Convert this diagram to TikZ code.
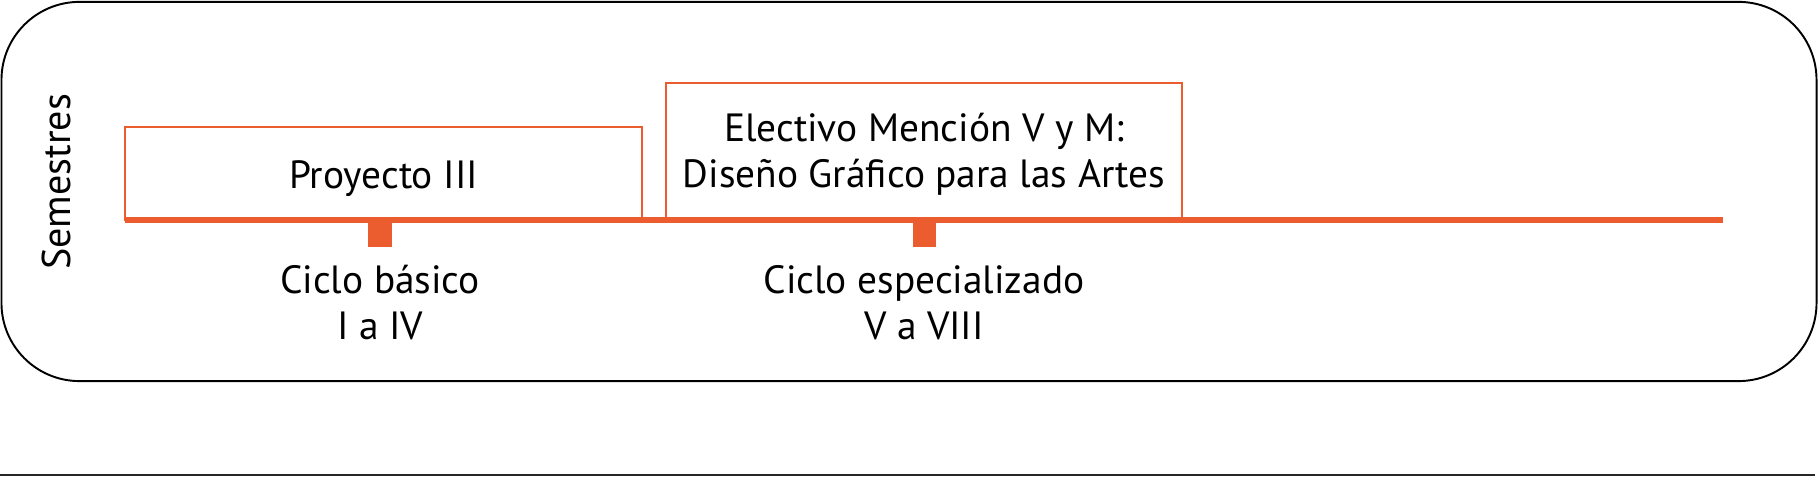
\documentclass[tikz,border=0pt]{standalone}
\usepackage{fontspec}
\setmainfont{PT Sans}
\usetikzlibrary{positioning}
\definecolor{naranja}{RGB}{235,92,46}

\begin{document}
\begin{tikzpicture}[x=0.01cm, y=-0.01cm,
  caja/.style={rectangle, draw=naranja, line width=0.5pt, inner sep=0pt},
  marca/.style={rectangle, fill=naranja, inner sep=0pt, minimum width=0.23cm, minimum height=0.27cm},
  texto/.style={align=center, anchor=base, font=\fontsize{11.2}{13.3}\selectfont}]
\useasboundingbox (0,0) rectangle (1818,477);
\node[draw=black, line width=0.55pt, rounded corners=0.78cm, minimum width=18.14cm, minimum height=3.79cm] (marco) at (909,191.5) {};

\node[caja, minimum width=5.17cm, minimum height=0.93cm] (proyecto) at (383.5,173.5) {};
\node[caja, minimum width=5.16cm, minimum height=1.36cm] (electivo) at (924,151) {};
\node[texto] (proyectotxt) at (383.5,189) {Proyecto III};
\node[texto] (electivotxt) at (924,188) {Electivo Mención V y M:\\Diseño Gráfico para las Artes};

\coordinate (inicio) at (125,220);
\coordinate (fin) at (1723,220);
\draw[naranja, line width=1.45pt] (inicio) -- (fin);

\node[marca] (basico) at (380,233.5) {};
\node[marca] (especializado) at (924,233.5) {};
\node[texto] (basicotxt) at (380,340) {Ciclo básico\\I a IV};
\node[texto] (especializadotxt) at (924,340) {Ciclo especializado\\V a VIII};

\node[rotate=90, font=\fontsize{11.4}{13.3}\selectfont] (semestres) at (56,182) {Semestres};

\coordinate (pieA) at (0,475);
\coordinate (pieB) at (1815,475);
\draw[black!85, line width=0.55pt] (pieA) -- (pieB);
\end{tikzpicture}
\end{document}
